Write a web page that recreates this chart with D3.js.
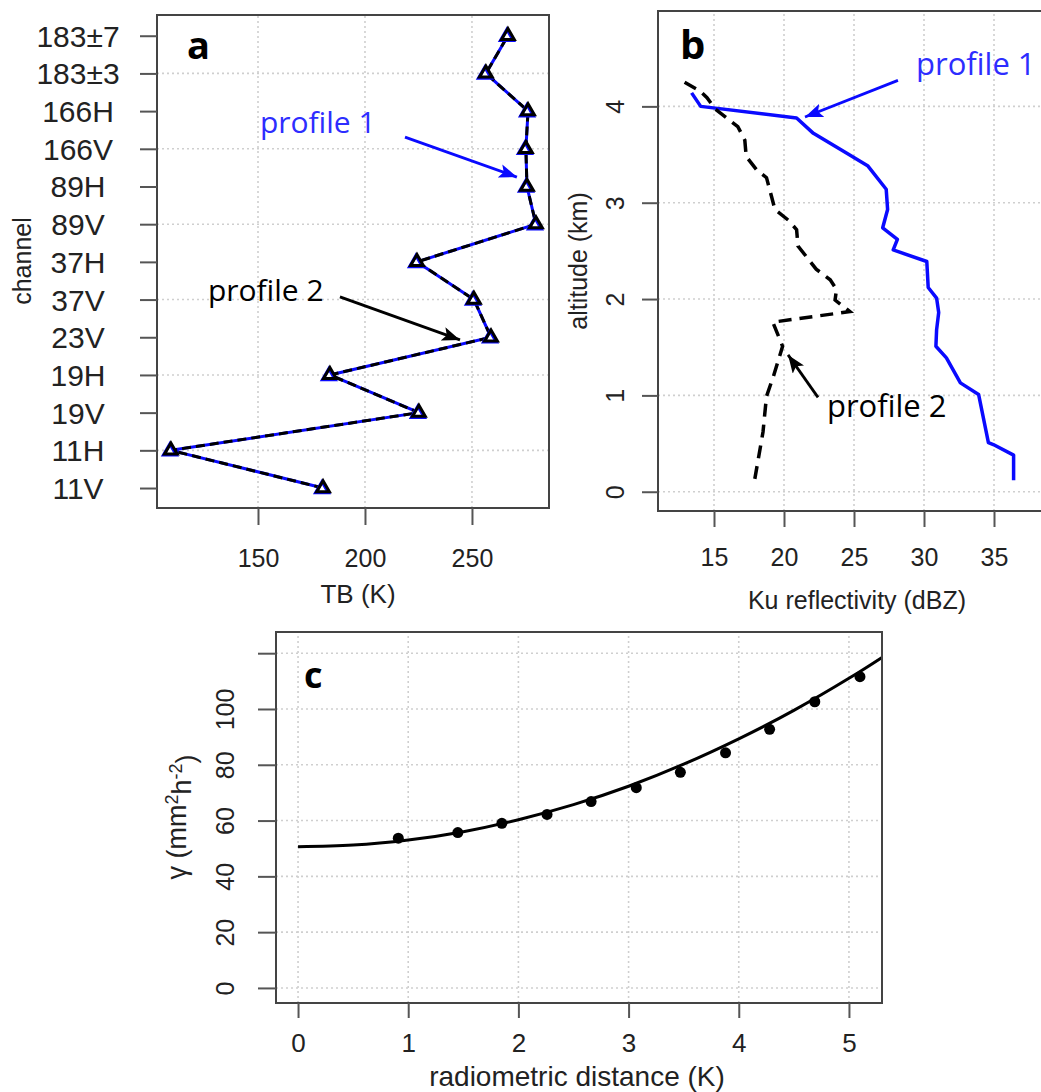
<!DOCTYPE html>
<html>
<head>
<meta charset="utf-8">
<script src="https://cdn.jsdelivr.net/npm/d3@7"></script>
<style>
  body { margin: 0; background: #fff; }
  svg { display: block; }
</style>
</head>
<body>
<svg id="fig" width="1041" height="1092"></svg>
<script>
// ---- panel a: brightness temperature per channel ----
const channels = ['11V', '11H', '19V', '19H', '23V', '37V', '37H', '89V', '89H', '166V', '166H', '183±3', '183±7'];
const tbProfile1 = [180.4, 109.3, 225.2, 183.6, 258.9, 250.9, 224.3, 279.9, 275.7, 275.2, 276.2, 256.5, 266.8];
const tbProfile2 = [180.4, 109.3, 225.2, 183.6, 258.9, 250.9, 224.3, 279.9, 275.7, 275.2, 276.2, 256.5, 266.8];
const tbTicks = [150, 200, 250];
const channelGrid = [1, 3, 5, 7, 9, 11];

// ---- panel b: Ku reflectivity profiles ----
const altProfile1 = [4.14, 4.00, 3.88, 3.72, 3.52, 3.38, 3.14, 2.93, 2.74, 2.62, 2.51, 2.39, 2.12, 2.01, 1.86, 1.68, 1.51, 1.39, 1.13, 1.01, 0.51, 0.49, 0.38, 0.12];
const zProfile1 = [13.4, 14.05, 20.9, 22.1, 24.4, 26.0, 27.3, 27.4, 27.05, 28.1, 27.8, 30.2, 30.3, 30.9, 31.05, 30.9, 30.85, 31.6, 32.6, 33.9, 34.6, 34.95, 36.4, 36.4];
const altProfile2 = [4.25, 4.16, 4.09, 3.97, 3.79, 3.65, 3.48, 3.34, 3.26, 3.07, 2.93, 2.82, 2.72, 2.55, 2.44, 2.31, 2.20, 2.10, 1.99, 1.87, 1.76, 1.51, 1.20, 0.99, 0.62, 0.12];
const zProfile2 = [12.9, 14.0, 14.5, 15.1, 16.7, 17.2, 17.3, 18.05, 18.75, 19.1, 19.35, 20.3, 20.9, 21.0, 21.6, 22.3, 23.3, 23.75, 23.65, 24.7, 19.2, 19.9, 19.25, 18.75, 18.5, 17.9];
const zTicks = [15, 20, 25, 30, 35];
const altTicks = [0, 1, 2, 3, 4];

// ---- panel c: gamma vs radiometric distance ----
const distObs = [0.91, 1.45, 1.85, 2.26, 2.66, 3.07, 3.47, 3.88, 4.28, 4.69, 5.10];
const gammaObs = [53.7, 55.7, 59.0, 62.2, 66.8, 71.8, 77.3, 84.3, 92.7, 102.6, 111.6];
const distFit = [0, 0.5, 1, 1.5, 2, 2.5, 3, 3.5, 4, 4.5, 5, 5.3];
const gammaFit = [50.6, 51.2, 53.0, 56.0, 60.3, 65.7, 72.3, 80.2, 89.3, 99.5, 111.0, 118.5];
const distTicks = [0, 1, 2, 3, 4, 5];
const gammaTicks = [0, 20, 40, 60, 80, 100, 120];
const gammaLabels = [0, 20, 40, 60, 80, 100];

const AXIS_FONT = '"Liberation Sans", Arial, sans-serif';
const NOTE_FONT = '"Open Sans", "Noto Sans", sans-serif';
const BLUE = '#0a0aff';
const NOTE_BLUE = '#2d2dff';
const fmtInt = d3.format('d');

const svg = d3.select('#fig');

const defs = svg.append('defs');
[['arrowBlue', BLUE], ['arrowBlack', '#000']].forEach(([id, col]) => {
  defs.append('marker')
    .attr('id', id)
    .attr('markerUnits', 'userSpaceOnUse')
    .attr('markerWidth', 20).attr('markerHeight', 14)
    .attr('refX', 18).attr('refY', 7)
    .attr('orient', 'auto')
    .append('path').attr('d', 'M0,0 L18,7 L0,14 L4,7 Z').attr('fill', col);
});

function frame(g, x, y) {
  const [x0, x1] = x.range();
  const [y0, y1] = y.range();
  g.append('rect')
    .attr('x', Math.min(x0, x1)).attr('y', Math.min(y0, y1))
    .attr('width', Math.abs(x1 - x0)).attr('height', Math.abs(y1 - y0))
    .attr('fill', 'none').attr('stroke', '#444').attr('stroke-width', 2);
}

function grid(g, x, y, xs, ys) {
  const gg = g.append('g')
    .attr('stroke', '#cfcfcf').attr('stroke-width', 1.6).attr('stroke-dasharray', '2,3');
  gg.selectAll('line.gx').data(xs).join('line')
    .attr('x1', d => x(d)).attr('x2', d => x(d))
    .attr('y1', y.range()[0]).attr('y2', y.range()[1]);
  gg.selectAll('line.gy').data(ys).join('line')
    .attr('y1', d => y(d)).attr('y2', d => y(d))
    .attr('x1', x.range()[0]).attr('x2', x.range()[1]);
}

function styleAxis(sel, fontSize) {
  sel.select('.domain').remove();
  sel.selectAll('.tick line').attr('stroke', '#555').attr('stroke-width', 2);
  sel.selectAll('.tick text')
    .attr('fill', '#222')
    .style('font-family', AXIS_FONT)
    .style('font-size', fontSize + 'px');
}

function note(g, txt, x, y, col, size) {
  g.append('text')
    .attr('x', x).attr('y', y)
    .attr('fill', col)
    .style('font-family', NOTE_FONT)
    .style('font-size', size + 'px')
    .text(txt);
}

function arrow(g, x1, y1, x2, y2, col, marker) {
  g.append('line')
    .attr('x1', x1).attr('y1', y1).attr('x2', x2).attr('y2', y2)
    .attr('stroke', col).attr('stroke-width', 2.8)
    .attr('marker-end', `url(#${marker})`);
}

function title(g, txt, x, y, size, rotate) {
  const t = g.append('text')
    .attr('text-anchor', 'middle')
    .attr('fill', '#222')
    .style('font-family', AXIS_FONT)
    .style('font-size', size + 'px');
  if (rotate) {
    t.attr('transform', `translate(${x},${y}) rotate(-90)`).attr('dy', '0.35em');
  } else {
    t.attr('x', x).attr('y', y);
  }
  t.text(txt);
  return t;
}

function panelLetter(g, txt, x, y, size) {
  g.append('text')
    .attr('x', x).attr('y', y)
    .attr('fill', '#000')
    .style('font-family', NOTE_FONT)
    .style('font-weight', 700)
    .style('font-size', size + 'px')
    .text(txt);
}

// ================= panel a =================
{
  const g = svg.append('g');
  const x = d3.scaleLinear().domain([102.8, 286]).range([157, 549]);
  const y = d3.scaleLinear().domain([-0.53, 12.55]).range([508, 15]);

  grid(g, x, y, tbTicks, channelGrid);

  const line = d3.line().x(d => x(d[0])).y(d => y(d[1]));
  const p1 = tbProfile1.map((v, i) => [v, i]);
  const p2 = tbProfile2.map((v, i) => [v, i]);

  g.append('path').datum(p1).attr('d', line)
    .attr('fill', 'none').attr('stroke', BLUE).attr('stroke-width', 3);
  g.append('path').datum(p2).attr('d', line)
    .attr('fill', 'none').attr('stroke', '#000').attr('stroke-width', 3)
    .attr('stroke-dasharray', '9,5');

  const tri = d3.symbol(d3.symbolTriangle, 70);
  g.selectAll('path.t1').data(p1).join('path')
    .attr('d', tri)
    .attr('transform', d => `translate(${x(d[0]) - 1},${y(d[1]) + 1})`)
    .attr('fill', '#fff').attr('stroke', BLUE).attr('stroke-width', 3.2);
  g.selectAll('path.t2').data(p2).join('path')
    .attr('d', tri)
    .attr('transform', d => `translate(${x(d[0])},${y(d[1])})`)
    .attr('fill', 'none').attr('stroke', '#000').attr('stroke-width', 3);

  frame(g, x, y);

  g.append('g').attr('transform', 'translate(0,508)')
    .call(d3.axisBottom(x).tickValues(tbTicks).tickFormat(fmtInt).tickSize(17).tickSizeOuter(0))
    .call(s => styleAxis(s, 25))
    .call(s => s.selectAll('.tick text').attr('y', 50).attr('dy', '0.35em'));

  g.append('g').attr('transform', 'translate(157,0)')
    .call(d3.axisLeft(y).tickValues(d3.range(channels.length))
      .tickFormat(i => channels[i]).tickSize(17).tickSizeOuter(0))
    .call(s => styleAxis(s, 30))
    .call(s => s.selectAll('.tick text')
      .attr('x', -79).attr('text-anchor', 'middle').attr('dy', '0.35em'));

  title(g, 'TB (K)', 358, 603, 26, false);
  title(g, 'channel', 22, 261, 25, true);

  panelLetter(g, 'a', 187, 59, 38);

  note(g, 'profile 1', x(150.9), y(9.42), NOTE_BLUE, 30);
  arrow(g, x(218.7), y(9.31), x(271.0), y(8.25), BLUE, 'arrowBlue');
  note(g, 'profile 2', x(126.6), y(4.96), '#000', 30);
  arrow(g, x(188.3), y(5.07), x(244.4), y(3.93), '#000', 'arrowBlack');
}

// ================= panel b =================
{
  const g = svg.append('g');
  const x = d3.scaleLinear().domain([11, 38.5]).range([658, 1043]);
  const y = d3.scaleLinear().domain([-0.2, 4.99]).range([511, 11]);

  grid(g, x, y, zTicks, altTicks);

  const line = d3.line().x(d => x(d[0])).y(d => y(d[1]));
  g.append('path').datum(zProfile1.map((v, i) => [v, altProfile1[i]])).attr('d', line)
    .attr('fill', 'none').attr('stroke', BLUE).attr('stroke-width', 3.5)
    .attr('stroke-linejoin', 'round');
  g.append('path').datum(zProfile2.map((v, i) => [v, altProfile2[i]])).attr('d', line)
    .attr('fill', 'none').attr('stroke', '#000').attr('stroke-width', 3.5)
    .attr('stroke-dasharray', '13,8');

  frame(g, x, y);

  g.append('g').attr('transform', 'translate(0,511)')
    .call(d3.axisBottom(x).tickValues(zTicks).tickFormat(fmtInt).tickSize(16).tickSizeOuter(0))
    .call(s => styleAxis(s, 25))
    .call(s => s.selectAll('.tick text').attr('y', 46).attr('dy', '0.35em'));

  g.append('g').attr('transform', 'translate(658,0)')
    .call(d3.axisLeft(y).tickValues(altTicks).tickFormat(fmtInt).tickSize(16).tickSizeOuter(0))
    .call(s => styleAxis(s, 25))
    .call(s => s.selectAll('.tick text')
      .attr('x', null).attr('dy', '0.35em').attr('text-anchor', 'middle')
      .attr('transform', 'translate(-43,0) rotate(-90)'));

  title(g, 'Ku reflectivity (dBZ)', 857, 609, 25, false);
  title(g, 'altitude (km)', 578, 261, 25, true);

  panelLetter(g, 'b', 680, 59, 40);

  note(g, 'profile 1', x(29.43), y(4.33), NOTE_BLUE, 31);
  arrow(g, x(28.14), y(4.27), x(21.5), y(3.89), BLUE, 'arrowBlue');
  note(g, 'profile 2', x(23.07), y(0.78), '#000', 31);
  arrow(g, x(22.43), y(0.98), x(20.29), y(1.42), '#000', 'arrowBlack');
}

// ================= panel c =================
{
  const g = svg.append('g');
  const x = d3.scaleLinear().domain([-0.2, 5.3]).range([276, 882]);
  const y = d3.scaleLinear().domain([-5.4, 127.6]).range([1003, 632]);

  grid(g, x, y, distTicks, gammaTicks);

  g.append('path')
    .datum(distFit.map((v, i) => [v, gammaFit[i]]))
    .attr('d', d3.line().curve(d3.curveNatural).x(d => x(d[0])).y(d => y(d[1])))
    .attr('fill', 'none').attr('stroke', '#000').attr('stroke-width', 3);

  g.selectAll('circle').data(distObs.map((v, i) => [v, gammaObs[i]])).join('circle')
    .attr('cx', d => x(d[0])).attr('cy', d => y(d[1])).attr('r', 5.5)
    .attr('fill', '#000');

  frame(g, x, y);

  g.append('g').attr('transform', 'translate(0,1003)')
    .call(d3.axisBottom(x).tickValues(distTicks).tickFormat(fmtInt).tickSize(15).tickSizeOuter(0))
    .call(s => styleAxis(s, 26))
    .call(s => s.selectAll('.tick text').attr('y', 40).attr('dy', '0.35em'));

  g.append('g').attr('transform', 'translate(276,0)')
    .call(d3.axisLeft(y).tickValues(gammaTicks)
      .tickFormat(d => gammaLabels.includes(d) ? fmtInt(d) : '').tickSize(18).tickSizeOuter(0))
    .call(s => styleAxis(s, 25))
    .call(s => s.selectAll('.tick text')
      .attr('x', null).attr('dy', '0.35em').attr('text-anchor', 'middle')
      .attr('transform', 'translate(-51,0) rotate(-90)'));

  title(g, 'radiometric distance (K)', 577, 1086, 28, false);

  const yt = title(g, '', 177, 817, 27, true);
  yt.append('tspan').text('γ (mm');
  yt.append('tspan').attr('dy', '-0.45em').style('font-size', '18px').text('2');
  yt.append('tspan').attr('dy', '0.45em').text('h');
  yt.append('tspan').attr('dy', '-0.45em').style('font-size', '18px').text('-2');
  yt.append('tspan').attr('dy', '0.45em').text(')');

  panelLetter(g, 'c', 304, 688, 36);
}
</script>
</body>
</html>
